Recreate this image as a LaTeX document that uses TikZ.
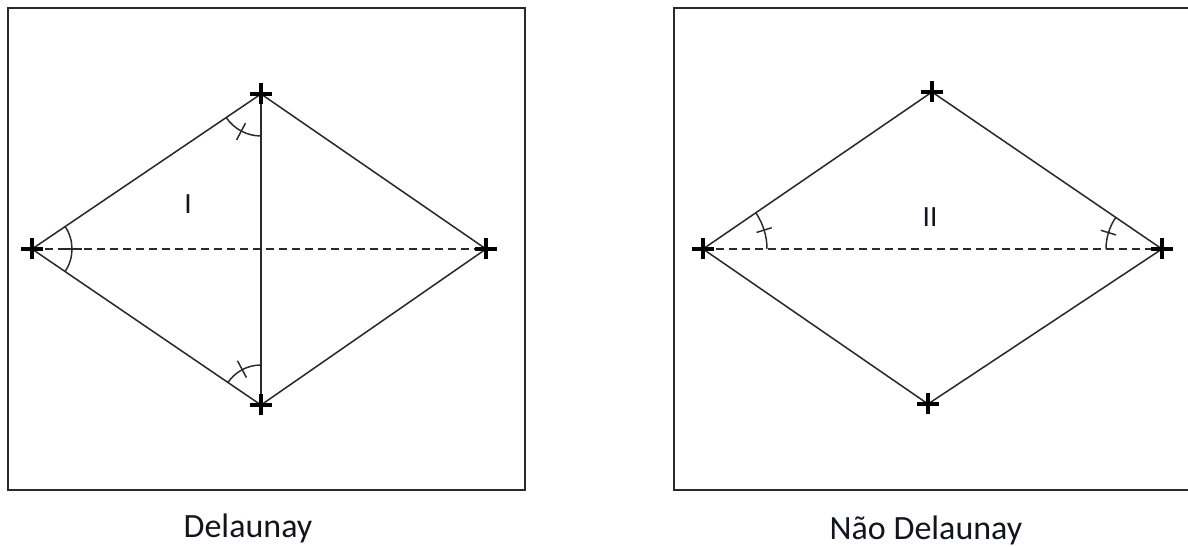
\documentclass[tikz,border=0pt]{standalone}
\usepackage{fontspec}
\setmainfont{Carlito}
\definecolor{linegray}{HTML}{2A2A2A}
\definecolor{framegray}{HTML}{2A2A2A}
\definecolor{textdark}{HTML}{141420}
\begin{document}
\begin{tikzpicture}[x=0.75pt,y=0.75pt,
  frame/.style={draw=framegray,line width=1.6pt},
  edge/.style={draw=linegray,line width=1.15pt},
  dashedge/.style={draw=linegray,line width=1.15pt,dash pattern=on 6pt off 3.75pt},
  anglearc/.style={draw=linegray,line width=1.1pt},
  plusmark/.pic={\draw[line width=2.7pt,black] (-11,0) -- (11,0) (0,-10.5) -- (0,10.5);},
  caption/.style={font=\fontsize{25.5}{30}\selectfont,text=textdark,anchor=base,inner sep=0pt},
  regionlabel/.style={font=\fontsize{22}{26}\selectfont,text=textdark,inner sep=0pt}
]
\useasboundingbox (0,0) rectangle (1188,546);
\clip (0,0) rectangle (1188,546);

% frames
\draw[frame] (8,56) rectangle (525,538);
\draw[frame] (674,56) rectangle (1196,538);

% left diagram (Delaunay)
\coordinate (L1) at (32,297);
\coordinate (T1) at (261,452);
\coordinate (R1) at (486,297);
\coordinate (B1) at (261,141);

\draw[edge] (L1) -- (T1) -- (R1) -- (B1) -- cycle;
\draw[edge] (T1) -- (B1);
\draw[dashedge] (L1) -- (R1);

% angle at L1
\draw[anglearc] (L1) ++(-34.2:40) arc[start angle=-34.2,end angle=34.1,radius=40];
\draw[anglearc] (L1) ++(0:31) -- ++(0:19);
% angle at T1
\draw[anglearc] (T1) ++(214.1:42) arc[start angle=214.1,end angle=270,radius=42];
\draw[anglearc] (T1) ++(242:33) -- ++(242:19);
% angle at B1
\draw[anglearc] (B1) ++(90:40) arc[start angle=90,end angle=145.8,radius=40];
\draw[anglearc] (B1) ++(118:31) -- ++(118:19);

\pic at (L1) {plusmark};
\pic at (T1) {plusmark};
\pic at (R1) {plusmark};
\pic at (B1) {plusmark};

\node[regionlabel] (lab1) at (188,342) {I};
\node[caption] (cap1) at (248,9) {Delaunay};

% right diagram (Nao Delaunay)
\coordinate (L2) at (703,297);
\coordinate (T2) at (932,454);
\coordinate (R2) at (1162,297);
\coordinate (B2) at (928,142);

\draw[edge] (L2) -- (T2) -- (R2) -- (B2) -- cycle;
\draw[dashedge] (L2) -- (R2);

% angle at L2
\draw[anglearc] (L2) ++(0:64) arc[start angle=0,end angle=34.4,radius=64];
\draw[anglearc] (L2) ++(17.2:56) -- ++(17.2:16);
% angle at R2
\draw[anglearc] (R2) ++(145.7:56) arc[start angle=145.7,end angle=180,radius=56];
\draw[anglearc] (R2) ++(163:48) -- ++(163:16);

\pic at (L2) {plusmark};
\pic at (T2) {plusmark};
\pic at (R2) {plusmark};
\pic at (B2) {plusmark};

\node[regionlabel] (lab2) at (930,329) {II};
\node[caption] (cap2) at (926,7) {Não Delaunay};
\end{tikzpicture}
\end{document}
